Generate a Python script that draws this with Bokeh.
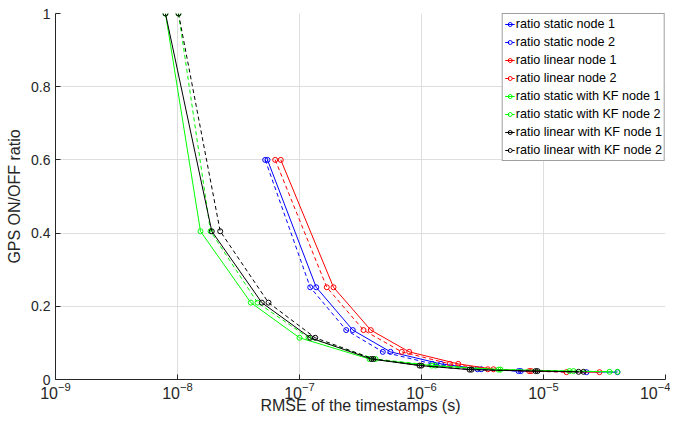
from bokeh.plotting import figure
from bokeh.models import FixedTicker, Legend, LegendItem, Range1d
from bokeh.embed import file_html
from bokeh.resources import INLINE

# ---- data ----
y_levels_a = [0.6, 0.252, 0.135, 0.0755, 0.0427, 0.028, 0.023, 0.02]
y_levels_b = [1.0, 0.405, 0.21, 0.114, 0.056, 0.038, 0.027, 0.023, 0.021]

static_node1 = [5.466e-8, 1.371e-7, 2.735e-7, 5.568e-7, 1.444e-6, 3.085e-6, 6.515e-6, 4.04e-5]
static_node2 = [5.235e-8, 1.224e-7, 2.415e-7, 4.817e-7, 1.224e-6, 2.877e-6, 6.24e-6, 2.252e-5]
linear_node1 = [7.025e-8, 1.9e-7, 3.84e-7, 7.93e-7, 2.0e-6, 3.89e-6, 7.925e-6, 2.877e-5]
linear_node2 = [6.32e-8, 1.674e-7, 3.346e-7, 6.895e-7, 1.706e-6, 3.495e-6, 7.63e-6, 1.543e-5]

static_kf_node1 = [7.97e-9, 1.543e-8, 3.99e-8, 1.0e-7, 3.75e-7, 1.214e-6, 4.28e-6, 1.633e-5, 3.475e-5]
static_kf_node2 = [1.019e-8, 1.865e-8, 4.53e-8, 1.185e-7, 4.2e-7, 1.302e-6, 4.44e-6, 1.762e-5, 4.04e-5]
linear_kf_node1 = [7.97e-9, 1.91e-8, 4.91e-8, 1.224e-7, 3.89e-7, 9.63e-7, 2.474e-6, 8.6e-6, 1.936e-5]
linear_kf_node2 = [1.019e-8, 2.239e-8, 5.57e-8, 1.345e-7, 4.04e-7, 1.0e-6, 2.57e-6, 8.93e-6, 2.128e-5]

x_ticks = [1e-9, 1e-8, 1e-7, 1e-6, 1e-5, 1e-4]
y_ticks = [0, 0.2, 0.4, 0.6, 0.8, 1.0]

series = [
    ("ratio static node 1", static_node1, y_levels_a, "#0000ff", "solid"),
    ("ratio static node 2", static_node2, y_levels_a, "#0000ff", "4 3"),
    ("ratio linear node 1", linear_node1, y_levels_a, "#ff0000", "solid"),
    ("ratio linear node 2", linear_node2, y_levels_a, "#ff0000", "4 3"),
    ("ratio static with KF node 1", static_kf_node1, y_levels_b, "#00ff00", "solid"),
    ("ratio static with KF node 2", static_kf_node2, y_levels_b, "#00ff00", "4 3"),
    ("ratio linear with KF node 1", linear_kf_node1, y_levels_b, "#000000", "solid"),
    ("ratio linear with KF node 2", linear_kf_node2, y_levels_b, "#000000", "4 3"),
]

FONT = "Liberation Sans"
AX = "#262626"

p = figure(x_axis_type="log", output_backend="svg", toolbar_location=None,
           frame_width=610, frame_height=366,
           min_border_left=55, min_border_right=5, min_border_top=13, min_border_bottom=10,
           x_range=Range1d(1e-9, 1e-4), y_range=Range1d(0, 1))
p.outline_line_color = None
p.background_fill_color = "white"
p.border_fill_color = "white"

items = []
for name, xs, ys, col, dash in series:
    r1 = p.line(xs, ys, line_color=col, line_width=1, line_dash=dash)
    r2 = p.scatter(xs, ys, marker="circle", size=5, line_color=col, fill_color=None, line_width=1)
    items.append(LegendItem(label=name, renderers=[r1, r2]))

p.xaxis.ticker = FixedTicker(ticks=x_ticks)
p.yaxis.ticker = FixedTicker(ticks=y_ticks)
p.yaxis.major_label_overrides = {0: "0", 0.2: "0.2", 0.4: "0.4", 0.6: "0.6", 0.8: "0.8", 1.0: "1"}

for ax in (p.xaxis[0], p.yaxis[0]):
    ax.axis_line_color = AX
    ax.major_tick_line_color = AX
    ax.major_tick_in = 5
    ax.major_tick_out = 0
    ax.minor_tick_line_color = None
    ax.major_label_text_font = FONT
    ax.major_label_text_font_size = "14px"
    ax.major_label_text_color = AX
    ax.axis_label_text_font = FONT
    ax.axis_label_text_font_size = "16px"
    ax.axis_label_text_font_style = "normal"
    ax.axis_label_text_color = AX

p.xaxis.major_label_text_font_size = "16px"
p.xaxis.axis_label = "RMSE of the timestamps (s)"
p.yaxis.axis_label = "GPS ON/OFF ratio"
p.xaxis.major_label_standoff = 2
p.xaxis.axis_label_standoff = -5
p.yaxis.major_label_standoff = 5
p.yaxis.axis_label_standoff = 5

p.xgrid.grid_line_color = "#dedede"
p.ygrid.grid_line_color = "#dedede"

legend = Legend(items=items, location="top_right")
legend.label_text_font = FONT
legend.label_text_font_size = "12.6px"
legend.label_text_color = "#000000"
legend.border_line_color = "#404040"
legend.border_line_width = 1
legend.background_fill_color = "white"
legend.background_fill_alpha = 1
legend.margin = 0
legend.padding = 2
legend.spacing = 2
legend.label_height = 16
legend.glyph_height = 16
legend.glyph_width = 10
legend.label_standoff = 1
p.add_layout(legend)

open("out.html", "w").write(file_html(p, INLINE))
